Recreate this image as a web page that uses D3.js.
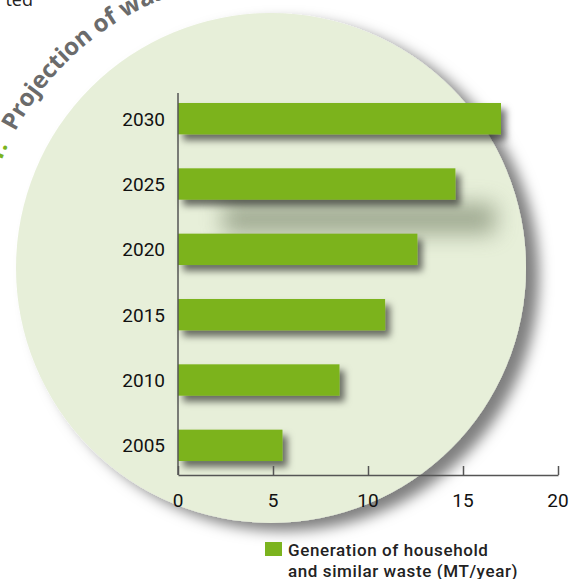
<!DOCTYPE html>
<html lang="en">
<head>
    <meta charset="UTF-8">
    <title>Waste generation projection</title>
    <style>
        body { margin: 0; background: #fff; }
        svg { display: block; }
    </style>
    <script src="https://d3js.org/d3.v7.min.js"></script>
</head>
<body>
    <script>
        // data
        var years = ["2030", "2025", "2020", "2015", "2010", "2005"];
        var waste = [17, 14.6, 12.6, 10.9, 8.5, 5.5];
        var xTicks = [0, 5, 10, 15, 20];
        var legendLines = ["Generation of household", "and similar waste (MT/year)"];

        var width = 580, height = 579;
        var green = "#7bb31e";
        var cx = 271, cy = 268, r = 255;

        var svg = d3.select("body").append("svg")
            .attr("width", width)
            .attr("height", height);

        var defs = svg.append("defs");
        var f1 = defs.append("filter").attr("id", "circleShadow")
            .attr("x", "-20%").attr("y", "-20%").attr("width", "140%").attr("height", "140%");
        f1.append("feDropShadow").attr("dx", 13).attr("dy", 8).attr("stdDeviation", 7)
            .attr("flood-color", "#000").attr("flood-opacity", 0.5);

        var f2 = defs.append("filter").attr("id", "barShadow")
            .attr("x", "-20%").attr("y", "-50%").attr("width", "140%").attr("height", "220%");
        f2.append("feDropShadow").attr("dx", 5).attr("dy", 6).attr("stdDeviation", 3.5)
            .attr("flood-color", "#000").attr("flood-opacity", 0.55);

        var f3 = defs.append("filter").attr("id", "blur")
            .attr("x", "-50%").attr("y", "-100%").attr("width", "200%").attr("height", "300%");
        f3.append("feGaussianBlur").attr("stdDeviation", 11);

        // big pale circle
        svg.append("circle")
            .attr("cx", cx).attr("cy", cy).attr("r", r)
            .attr("fill", "#e7efd9")
            .attr("filter", "url(#circleShadow)");

        // curved title, running round the circle
        var tr = 290;
        function pt(a) {
            var t = a * Math.PI / 180;
            return [cx + tr * Math.cos(t), cy + tr * Math.sin(t)];
        }
        var p0 = pt(-200), p1 = pt(0);
        defs.append("path").attr("id", "titleArc")
            .attr("d", "M" + p0[0] + "," + p0[1] + " A" + tr + "," + tr + " 0 1,1 " + p1[0] + "," + p1[1]);
        var arcLen = function (a) { return (a + 200) * Math.PI / 180 * tr; };

        svg.append("text")
            .attr("font-family", "'Open Sans', sans-serif")
            .attr("font-weight", "bold").attr("font-size", 24)
            .attr("fill", green)
            .append("textPath").attr("href", "#titleArc")
            .attr("startOffset", arcLen(-155))
            .attr("text-anchor", "end")
            .text("Figure 1:");

        svg.append("text")
            .attr("font-family", "'Open Sans', sans-serif")
            .attr("font-weight", "bold").attr("font-size", 24)
            .attr("fill", "#6b6b6b")
            .append("textPath").attr("href", "#titleArc")
            .attr("startOffset", arcLen(-152))
            .text("Projection of waste generation");

        svg.append("text")
            .attr("x", 33).attr("y", 6)
            .attr("text-anchor", "end")
            .attr("font-family", "'Open Sans', sans-serif")
            .attr("font-size", 18).attr("fill", "#222")
            .text("ted");

        // scales
        var x = d3.scaleLinear().domain([0, 20]).range([178, 558]);
        var y = d3.scaleBand().domain(years).range([86, 478])
            .paddingInner(0.52).paddingOuter(0.26);

        // soft far shadow below the 2025 bar
        svg.append("rect")
            .attr("x", x(0) + 45)
            .attr("y", y("2025") + y.bandwidth() + 4)
            .attr("width", x(waste[1]) - x(0) - 5)
            .attr("height", 30)
            .attr("fill", "#6e7a60").attr("opacity", 0.6)
            .attr("filter", "url(#blur)");

        // bars
        svg.selectAll(".bar").data(years).enter().append("rect")
            .attr("class", "bar")
            .attr("x", x(0))
            .attr("y", function (d) { return y(d); })
            .attr("width", function (d, i) { return x(waste[i]) - x(0); })
            .attr("height", y.bandwidth())
            .attr("fill", green)
            .attr("filter", "url(#barShadow)");

        // y axis
        svg.append("line")
            .attr("x1", x(0)).attr("x2", x(0)).attr("y1", 93).attr("y2", 475)
            .attr("stroke", "#555").attr("stroke-width", 1.5);
        svg.selectAll(".ylab").data(years).enter().append("text")
            .attr("class", "ylab")
            .attr("x", 165)
            .attr("y", function (d) { return y(d) + y.bandwidth() / 2; })
            .attr("dy", "0.36em")
            .attr("text-anchor", "end")
            .attr("font-family", "Roboto, sans-serif")
            .attr("font-size", 19).attr("fill", "#111")
            .text(function (d) { return d; });

        // x axis
        var xAxis = svg.append("g")
            .attr("transform", "translate(0,475)")
            .call(d3.axisTop(x).tickValues(xTicks).tickSizeInner(9).tickSizeOuter(0).tickFormat(""));
        xAxis.selectAll("path, line").attr("stroke", "#555").attr("stroke-width", 1.5);
        svg.selectAll(".xlab").data(xTicks).enter().append("text")
            .attr("class", "xlab")
            .attr("x", function (d) { return x(d); })
            .attr("y", 507)
            .attr("text-anchor", "middle")
            .attr("font-family", "Roboto, sans-serif")
            .attr("font-size", 19).attr("fill", "#111")
            .text(function (d) { return d; });

        // legend
        svg.append("rect")
            .attr("x", 265).attr("y", 542).attr("width", 17).attr("height", 14)
            .attr("fill", green);
        var leg = svg.append("text")
            .attr("font-family", "Roboto, sans-serif")
            .attr("font-weight", 500)
            .attr("font-size", 17).attr("letter-spacing", 0.6)
            .attr("fill", "#222");
        leg.selectAll("tspan").data(legendLines).enter().append("tspan")
            .attr("x", 288)
            .attr("y", function (d, i) { return 556 + i * 21; })
            .text(function (d) { return d; });
    </script>
</body>
</html>
